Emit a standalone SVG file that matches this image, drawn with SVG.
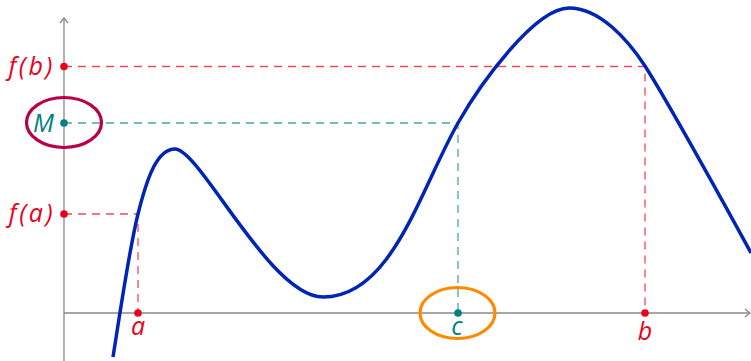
<svg xmlns="http://www.w3.org/2000/svg" width="751" height="361" viewBox="0 0 751 361">
<style>
.axis{stroke:#888;stroke-width:1.3;fill:none}
.dr{stroke:#f04a5a;stroke-width:1.3;stroke-dasharray:8 6;fill:none}
.dt{stroke:#4aa8a2;stroke-width:1.3;stroke-dasharray:8 6;fill:none}
.lbl{font-family:"Open Sans","Noto Sans",sans-serif;font-style:italic;font-size:25px}
.red{fill:#e8001c}
.teal{fill:#008080}
</style>
<rect width="751" height="361" fill="#fff"/>
<g id="axes">
<line class="axis" x1="64" y1="361" x2="64" y2="18"/>
<polyline class="axis" points="60,23 64,18 68,23"/>
<line class="axis" x1="64" y1="313" x2="750" y2="313"/>
<polyline class="axis" points="745,309 750,313 745,317"/>
</g>
<g id="connectors">
<polyline class="dr" points="64,214 138,214 138,313"/>
<polyline class="dr" points="64,66.5 645,66.5 645,313"/>
<polyline class="dt" points="64,123 458,123 458,313"/>
</g>
<g id="curve">
<path d="M113,357 C119,320 129,250 138,214 C147,178 157,149 175,149 C200,149 270,297 323,297 C392,297 420,190 458,123 C480,84 535,8 569,8 C600,8 628,40 645,66 C665,97 725,205 751,253" fill="none" stroke="#0025b5" stroke-width="3.5"/>
</g>
<g id="node-fb">
<circle class="red" cx="64" cy="66.5" r="3.8"/>
<text class="lbl red" x="55" y="75" text-anchor="end" letter-spacing="2.5">f(b)</text>
</g>
<g id="node-M">
<ellipse cx="64" cy="122.5" rx="37.5" ry="25" fill="none" stroke="#b8004a" stroke-width="3.2"/>
<circle class="teal" cx="64" cy="123" r="3.8"/>
<text class="lbl teal" x="54" y="132" text-anchor="end">M</text>
</g>
<g id="node-fa">
<circle class="red" cx="64" cy="214" r="3.8"/>
<text class="lbl red" x="55" y="222" text-anchor="end" letter-spacing="2.5">f(a)</text>
</g>
<g id="node-a">
<circle class="red" cx="138" cy="313" r="3.8"/>
<text class="lbl red" x="138" y="335" text-anchor="middle">a</text>
</g>
<g id="node-c">
<ellipse cx="457.5" cy="313" rx="37.5" ry="25.5" fill="none" stroke="#ff8a00" stroke-width="3.2"/>
<circle class="teal" cx="458" cy="313" r="3.8"/>
<text class="lbl teal" x="457" y="335" text-anchor="middle">c</text>
</g>
<g id="node-b">
<circle class="red" cx="645" cy="313" r="3.8"/>
<text class="lbl red" x="645" y="340" text-anchor="middle">b</text>
</g>
</svg>
